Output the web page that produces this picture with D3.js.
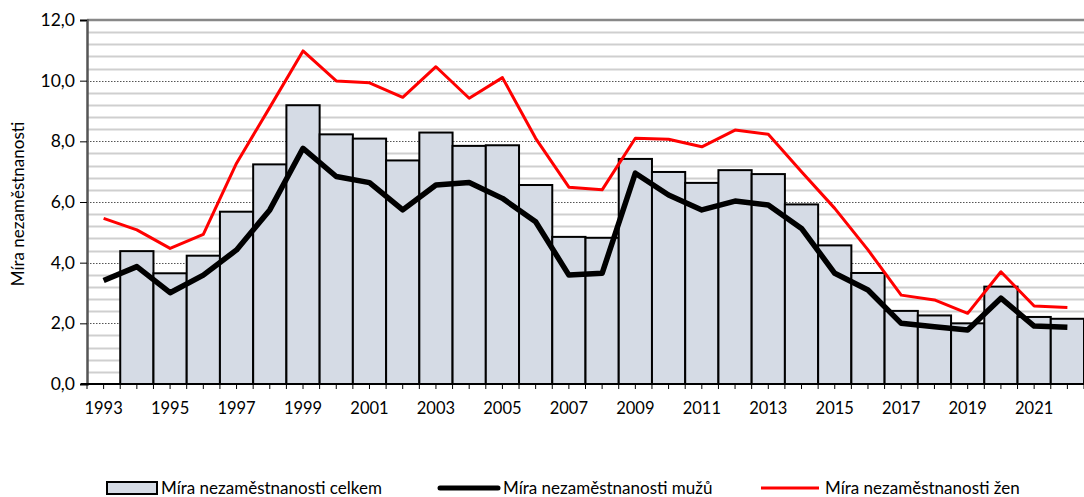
<!DOCTYPE html>
<html>
<head>
<meta charset="utf-8">
<script src="https://cdn.jsdelivr.net/npm/d3@7"></script>
<style>
  body { margin: 0; background: #fff; }
  text { font-family: Lato, "Open Sans", sans-serif; fill: #000; }
</style>
</head>
<body>
<svg id="chart" width="1084" height="497"></svg>
<script>
// Data
const years = d3.range(1993, 2023).map(String);
const totalRate = [null, 4.38, 3.65, 4.23, 5.68, 7.24, 9.19, 8.23, 8.09, 7.37, 8.29, 7.85, 7.87, 6.56, 4.85, 4.82,
  7.42, 6.99, 6.63, 7.05, 6.92, 5.92, 4.57, 3.66, 2.41, 2.26, 2.0, 3.21, 2.21, 2.15];
const menRate = [3.41, 3.87, 3.01, 3.59, 4.42, 5.74, 7.77, 6.84, 6.64, 5.74, 6.56, 6.64, 6.12, 5.35, 3.59, 3.65,
  6.95, 6.23, 5.74, 6.03, 5.9, 5.13, 3.65, 3.1, 2.0, 1.89, 1.78, 2.83, 1.91, 1.87];
const womenRate = [5.46, 5.08, 4.47, 4.93, 7.28, 9.12, 10.98, 9.99, 9.93, 9.45, 10.46, 9.42, 10.1, 8.1, 6.49, 6.4,
  8.1, 8.07, 7.82, 8.37, 8.23, 7.0, 5.79, 4.42, 2.93, 2.77, 2.33, 3.7, 2.57, 2.52];
const yTicks = [0, 2, 4, 6, 8, 10, 12];
const xLabels = years.filter((d, i) => i % 2 === 0);
const legendLabels = ["Míra nezaměstnanosti celkem", "Míra nezaměstnanosti mužů", "Míra nezaměstnanosti žen"];
const yTitle = "Míra nezaměstnanosti";

const margin = { top: 20, right: 0, bottom: 113, left: 87 };
const width = 1084;
const height = 497;

const svg = d3.select("#chart");

const x = d3.scaleBand().domain(years).range([margin.left, width - margin.right]).padding(0);
const y = d3.scaleLinear().domain([0, 12]).range([height - margin.bottom, margin.top]);
const cx = (i) => x(years[i]) + x.bandwidth() / 2;

// Minor gridlines every 0.4
const minor = d3.range(0.4, 12, 0.4).filter((v) => Math.abs(v / 2 - Math.round(v / 2)) > 0.01);
svg.append("g")
  .selectAll("line")
  .data(minor)
  .join("line")
  .attr("x1", margin.left)
  .attr("x2", width)
  .attr("y1", (d) => Math.round(y(d)) + 0.5)
  .attr("y2", (d) => Math.round(y(d)) + 0.5)
  .attr("stroke", "#cfcfcf")
  .attr("stroke-width", 2);

// Major dotted gridlines
svg.append("g")
  .selectAll("line")
  .data(yTicks.filter((d) => d > 0 && d < 12))
  .join("line")
  .attr("x1", margin.left)
  .attr("x2", width)
  .attr("y1", (d) => Math.round(y(d)) + 0.5)
  .attr("y2", (d) => Math.round(y(d)) + 0.5)
  .attr("stroke", "#555")
  .attr("stroke-width", 1)
  .attr("stroke-dasharray", "1.5,1.5");

// Top border
svg.append("line")
  .attr("x1", margin.left).attr("x2", width)
  .attr("y1", y(12)).attr("y2", y(12))
  .attr("stroke", "#888").attr("stroke-width", 2.5);

// Bars
svg.append("g")
  .selectAll("rect")
  .data(totalRate.map((v, i) => ({ year: years[i], v })).filter((d) => d.v != null))
  .join("rect")
  .attr("x", (d) => x(d.year))
  .attr("y", (d) => y(d.v))
  .attr("width", x.bandwidth())
  .attr("height", (d) => y(0) - y(d.v))
  .attr("fill", "#d5dbe5")
  .attr("stroke", "#000")
  .attr("stroke-width", 2);

// Lines
const line = d3.line().x((d, i) => cx(i)).y((d) => y(d));

svg.append("path")
  .datum(menRate)
  .attr("d", line)
  .attr("fill", "none")
  .attr("stroke", "#000")
  .attr("stroke-width", 5.5)
  .attr("stroke-linejoin", "round");

svg.append("path")
  .datum(womenRate)
  .attr("d", line)
  .attr("fill", "none")
  .attr("stroke", "#ff0000")
  .attr("stroke-width", 3)
  .attr("stroke-linejoin", "round");

// Y axis
const yAxis = svg.append("g")
  .attr("transform", `translate(${margin.left},0)`)
  .call(d3.axisLeft(y).tickValues(yTicks).tickSize(7).tickPadding(5)
    .tickFormat((d) => d3.format(".1f")(d).replace(".", ",")));
yAxis.select(".domain").attr("stroke", "#555").attr("stroke-width", 2.5);
yAxis.selectAll(".tick line").attr("stroke", "#000");
yAxis.selectAll("text").attr("font-size", 17.5).attr("font-family", "Lato, sans-serif");

// X axis: ticks at every band edge and centre
const xTickPos = d3.range(0, years.length * 2 + 1).map((k) => margin.left + (k * x.bandwidth()) / 2);
svg.append("g")
  .selectAll("line")
  .data(xTickPos)
  .join("line")
  .attr("x1", (d) => d).attr("x2", (d) => d)
  .attr("y1", y(0)).attr("y2", y(0) + 5)
  .attr("stroke", "#000").attr("stroke-width", 1);

svg.append("line")
  .attr("x1", margin.left - 6).attr("x2", width)
  .attr("y1", y(0)).attr("y2", y(0))
  .attr("stroke", "#000").attr("stroke-width", 2);

svg.append("g")
  .selectAll("text")
  .data(xLabels)
  .join("text")
  .attr("x", (d) => x(d) + x.bandwidth() / 2)
  .attr("y", y(0) + 30)
  .attr("text-anchor", "middle")
  .attr("font-size", 16.5)
  .text((d) => d);

// Y title
svg.append("text")
  .attr("transform", `translate(24,${(y(0) + y(12)) / 2 + 2}) rotate(-90)`)
  .attr("text-anchor", "middle")
  .attr("font-size", 17)
  .text(yTitle);

// Legend
const legend = svg.append("g").attr("transform", "translate(0,488)");
legend.append("rect")
  .attr("x", 107).attr("y", -6).attr("width", 50).attr("height", 12)
  .attr("fill", "#d5dbe5").attr("stroke", "#000").attr("stroke-width", 2);
legend.append("line")
  .attr("x1", 440).attr("x2", 498).attr("y1", 0).attr("y2", 0)
  .attr("stroke", "#000").attr("stroke-width", 5).attr("stroke-linecap", "round");
legend.append("line")
  .attr("x1", 761).attr("x2", 819).attr("y1", 0).attr("y2", 0)
  .attr("stroke", "#ff0000").attr("stroke-width", 3);

legend.selectAll("text.label")
  .data(legendLabels)
  .join("text")
  .attr("class", "label")
  .attr("x", (d, i) => [161, 503, 825][i])
  .attr("y", 6)
  .attr("font-size", 17)
  .text((d) => d);
</script>
</body>
</html>
